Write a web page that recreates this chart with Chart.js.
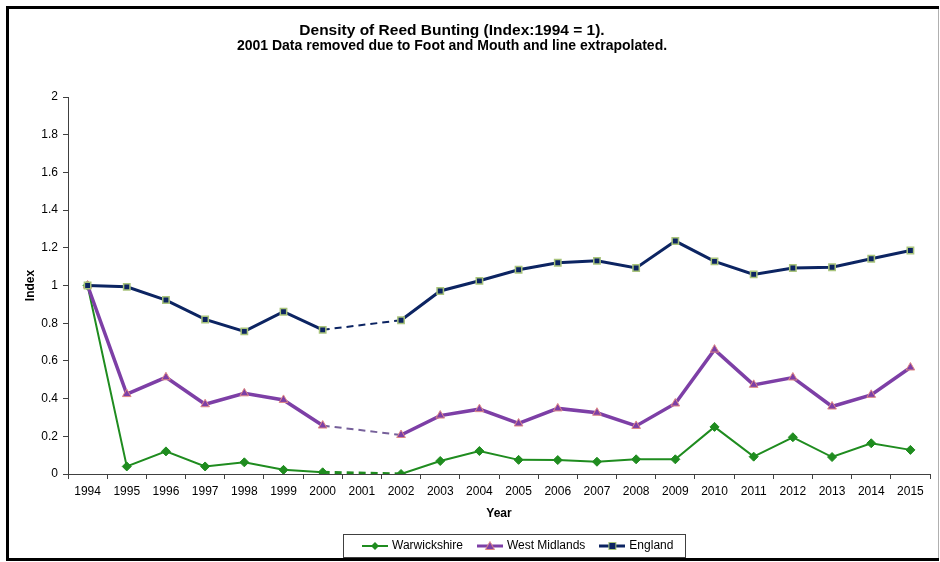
<!DOCTYPE html>
<html>
<head>
<meta charset="utf-8">
<title>Density of Reed Bunting</title>
<script src="https://cdn.jsdelivr.net/npm/chart.js@4.4.1/dist/chart.umd.min.js"></script>
<style>
  html, body { margin: 0; padding: 0; background: #fff; }
  #wrap { position: relative; width: 940px; height: 562px; }
</style>
</head>
<body>
<div id="wrap"><canvas id="chart" width="940" height="562"></canvas></div>
<script>
// survey years; 2001 has no data (foot and mouth) so its values are null
const years = ['1994', '1995', '1996', '1997', '1998', '1999', '2000', '2001', '2002', '2003', '2004',
  '2005', '2006', '2007', '2008', '2009', '2010', '2011', '2012', '2013', '2014', '2015'];

const warwickshire = [1, 0.04, 0.12, 0.04, 0.062, 0.022, 0.009, null, 0, 0.069, 0.122,
  0.075, 0.074, 0.065, 0.078, 0.078, 0.25, 0.092, 0.195, 0.09, 0.163, 0.128];
const westMidlands = [1, 0.424, 0.513, 0.37, 0.428, 0.393, 0.257, null, 0.207, 0.31, 0.344,
  0.268, 0.348, 0.325, 0.255, 0.374, 0.66, 0.473, 0.512, 0.358, 0.42, 0.565];
const england = [1, 0.993, 0.923, 0.82, 0.757, 0.861, 0.765, null, 0.816, 0.971, 1.025,
  1.084, 1.121, 1.131, 1.093, 1.236, 1.128, 1.059, 1.093, 1.097, 1.142, 1.186];

const FONT = '"Liberation Sans", Arial, sans-serif';
const GREEN = '#1f8c1f';
const PURPLE = '#7d3fa6';
const NAVY = '#0c2462';

// dashed where the line jumps over the missing year
// (with spanGaps the segment's p0DataIndex is the skipped point)
const isGap = ctx => ctx.chart.data.datasets[ctx.datasetIndex].data[ctx.p0DataIndex] == null ||
  ctx.p1DataIndex - ctx.p0DataIndex > 1;

function legendIcon(color, width, marker) {
  const c = document.createElement('canvas');
  c.width = 26; c.height = 12;
  const g = c.getContext('2d');
  g.strokeStyle = color;
  g.lineWidth = width;
  g.beginPath(); g.moveTo(0, 6); g.lineTo(26, 6); g.stroke();
  marker(g, 13, 6);
  return c;
}

const legendIcons = [
  legendIcon(GREEN, 2, (g, x, y) => {
    g.fillStyle = GREEN;
    g.beginPath(); g.moveTo(x, y - 4); g.lineTo(x + 4, y); g.lineTo(x, y + 4); g.lineTo(x - 4, y); g.closePath(); g.fill();
  }),
  legendIcon(PURPLE, 3, (g, x, y) => {
    g.fillStyle = PURPLE; g.strokeStyle = '#e08a86'; g.lineWidth = 1;
    g.beginPath(); g.moveTo(x, y - 4.5); g.lineTo(x + 4.5, y + 3.5); g.lineTo(x - 4.5, y + 3.5); g.closePath(); g.fill(); g.stroke();
  }),
  legendIcon(NAVY, 3, (g, x, y) => {
    g.fillStyle = NAVY; g.strokeStyle = '#a9c47c'; g.lineWidth = 1;
    g.fillRect(x - 3.5, y - 3.5, 7, 7); g.strokeRect(x - 3.5, y - 3.5, 7, 7);
  })
];

// white page with the heavy black frame round the chart
const framePlugin = {
  id: 'frame',
  afterLayout(chart) {
    // titles sit a little left of centre, legend a little right
    chart.boxes.forEach(box => {
      if (box.position === 'top') { box.left -= 18; box.right -= 18; }
    });
    chart.legend.left = 348;
  },
  beforeDraw(chart) {
    const ctx = chart.ctx;
    ctx.save();
    ctx.fillStyle = '#fff';
    ctx.fillRect(0, 0, chart.width, chart.height);
    ctx.fillStyle = '#000';
    ctx.fillRect(6, 6, 933, 3);
    ctx.fillRect(6, 6, 3, 555);
    ctx.fillRect(6, 558, 933, 3);
    ctx.fillStyle = '#b0b0b0';
    ctx.fillRect(938, 9, 1, 549);
    ctx.restore();
  },
  afterDraw(chart) {
    // box round the legend entries
    const boxes = chart.legend.legendHitBoxes;
    if (!boxes || !boxes.length) return;
    const first = boxes[0];
    const last = boxes[boxes.length - 1];
    const cy = first.top + first.height / 2;
    const ctx = chart.ctx;
    ctx.save();
    ctx.strokeStyle = '#404040';
    ctx.lineWidth = 1;
    ctx.strokeRect(Math.round(first.left - 21) + 0.5, Math.round(cy - 12) + 0.5,
      Math.round(last.left + last.width - first.left + 33), 23);
    ctx.restore();
  }
};

new Chart(document.getElementById('chart'), {
  type: 'line',
  data: {
    labels: years,
    datasets: [
      {
        label: 'Warwickshire',
        data: warwickshire,
        order: 2,
        borderColor: GREEN,
        borderWidth: 2,
        pointStyle: 'rectRot',
        pointRadius: 4.5,
        pointBackgroundColor: GREEN,
        pointBorderColor: GREEN,
        pointBorderWidth: 1,
        spanGaps: true,
        segment: {
          borderDash: ctx => isGap(ctx) ? [7, 5] : undefined,
          borderWidth: ctx => isGap(ctx) ? 3 : undefined
        }
      },
      {
        label: 'West Midlands',
        data: westMidlands,
        order: 1,
        borderColor: PURPLE,
        borderWidth: 3.5,
        pointStyle: 'triangle',
        pointRadius: 5,
        pointBackgroundColor: PURPLE,
        pointBorderColor: '#e08a86',
        pointBorderWidth: 1,
        spanGaps: true,
        segment: {
          borderDash: ctx => isGap(ctx) ? [7, 5] : undefined,
          borderWidth: ctx => isGap(ctx) ? 2 : undefined,
          borderColor: ctx => isGap(ctx) ? '#76609a' : undefined
        }
      },
      {
        label: 'England',
        data: england,
        order: 0,
        borderColor: NAVY,
        borderWidth: 3,
        pointStyle: 'rect',
        pointRadius: 4.5,
        pointBackgroundColor: NAVY,
        pointBorderColor: '#a9c47c',
        pointBorderWidth: 1.5,
        spanGaps: true,
        segment: {
          borderDash: ctx => isGap(ctx) ? [7, 5] : undefined,
          borderWidth: ctx => isGap(ctx) ? 2 : undefined
        }
      }
    ]
  },
  options: {
    responsive: false,
    animation: false,
    events: [],
    layout: { padding: { top: 12, left: 10, right: 10, bottom: 0 } },
    plugins: {
      title: {
        display: true,
        text: 'Density of Reed Bunting (Index:1994 = 1).',
        color: '#000',
        font: { family: FONT, size: 15.5, weight: 'bold', lineHeight: 1.1 },
        padding: { top: 10, bottom: 0 }
      },
      subtitle: {
        display: true,
        text: '2001 Data removed due to Foot and Mouth and line extrapolated.',
        color: '#000',
        font: { family: FONT, size: 14, weight: 'bold', lineHeight: 1.0 },
        padding: { top: 0, bottom: 44 }
      },
      legend: {
        position: 'bottom',
        align: 'start',
        labels: {
          color: '#000',
          font: { family: FONT, size: 12 },
          usePointStyle: true,
          pointStyleWidth: 22,
          padding: 16,
          sort: (a, b) => a.datasetIndex - b.datasetIndex,
          generateLabels: chart => Chart.defaults.plugins.legend.labels.generateLabels(chart)
            .map(item => Object.assign(item, { pointStyle: legendIcons[item.datasetIndex] }))
        }
      },
      tooltip: { enabled: false }
    },
    scales: {
      x: {
        offset: true,
        afterFit: scale => { scale.height = 50; },
        grid: { offset: true, drawOnChartArea: false, tickLength: 5, color: '#404040' },
        border: { color: '#404040' },
        ticks: { color: '#000', font: { family: FONT, size: 12 }, padding: 5, maxRotation: 0, autoSkip: false },
        title: {
          display: true,
          text: 'Year',
          color: '#000',
          font: { family: FONT, size: 12, weight: 'bold' },
          padding: { top: 4, bottom: 3 }
        }
      },
      y: {
        min: 0,
        max: 2,
        afterFit: scale => { scale.width = 58; },
        grid: { drawOnChartArea: false, tickLength: 5, color: '#404040' },
        border: { color: '#404040' },
        ticks: {
          stepSize: 0.2,
          padding: 5,
          color: '#000',
          font: { family: FONT, size: 12 },
          callback: v => String(Math.round(v * 10) / 10)
        },
        title: {
          display: true,
          text: 'Index',
          color: '#000',
          font: { family: FONT, size: 12, weight: 'bold' },
          padding: { top: 13, bottom: 0 }
        }
      }
    }
  },
  plugins: [framePlugin]
});
</script>
</body>
</html>
